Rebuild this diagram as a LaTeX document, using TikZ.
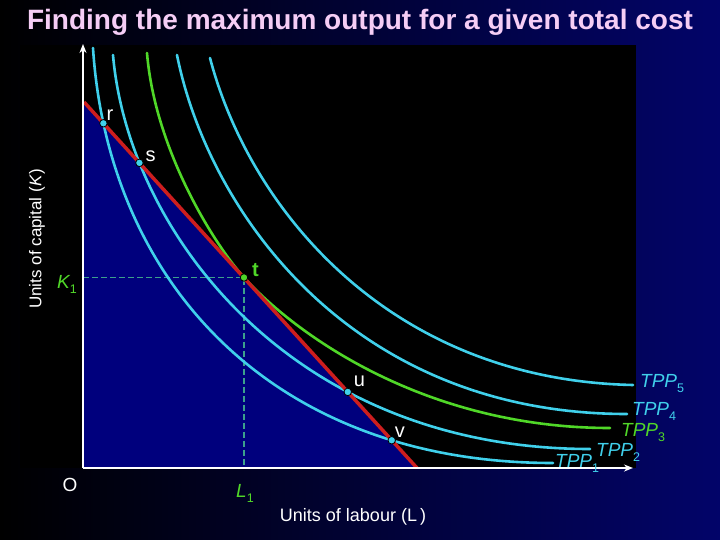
\documentclass[tikz,border=0pt]{standalone}
\usepackage{fontspec}
\setmainfont{Liberation Sans}
\usetikzlibrary{arrows.meta,intersections}

\definecolor{bgnavy}{RGB}{2,4,105}
\definecolor{tppcyan}{RGB}{64,208,235}
\definecolor{tppgreen}{RGB}{80,215,40}
\definecolor{isored}{RGB}{205,30,30}
\definecolor{fillnavy}{RGB}{0,0,125}
\definecolor{titlepink}{RGB}{245,205,245}
\definecolor{guideteal}{RGB}{60,160,140}
\newcommand{\lowsub}[1]{\raisebox{-0.55ex}{\fontsize{12.5}{12.5}\selectfont\upshape #1}}

\begin{document}
\begin{tikzpicture}[x=1pt,y=-1pt,
    curve/.style={line width=2.6pt,tppcyan,line cap=round},
    dot/.style={circle,fill=tppcyan,draw=black,line width=0.8pt,inner sep=0pt,minimum size=7.5pt},
    ptlabel/.style={white,font=\fontsize{20}{20}\selectfont,anchor=base west,inner sep=0pt},
    tpplabel/.style={tppcyan,font=\fontsize{19}{19}\selectfont\itshape,anchor=base west,inner sep=0pt},
    axislabel/.style={white,font=\fontsize{18}{18}\selectfont,inner sep=0pt}]
            \useasboundingbox (0,0) rectangle (720,540);
            \shade[left color=black,right color=bgnavy] (0,0) rectangle (720,540);
            \fill[black] (20,45) rectangle (636,468);
            % key points of the budget line
            \coordinate (origin) at (83,468);
            \coordinate (kmax) at (84,102);
            \coordinate (lmax) at (417,468);
            \coordinate (tpt) at (244,277.5);
            \coordinate (k1) at (83,277.5);
            \coordinate (l1) at (244,468);
            \coordinate (kend) at (83,44);
            \coordinate (lend) at (633,468);
            \fill[fillnavy] (kmax) -- (origin) -- (lmax) -- cycle;
            \draw[guideteal,dash pattern=on 6pt off 3pt,line width=1.2pt] (k1) -- (tpt) -- (l1);
            % isoquants
            \draw[curve,name path=tppone] (93,48) .. controls (108,280) and (270,463) .. (553,463);
            \draw[curve,name path=tpptwo] (113,55) .. controls (128,230) and (290,449) .. (590,449);
            \draw[curve,tppgreen] (147,53) .. controls (155,150) and (214,244) .. (tpt)
                .. controls (300,339) and (430,428) .. (610,428);
            \draw[curve] (177,55) .. controls (208,210) and (350,414) .. (627,414);
            \draw[curve] (210,58) .. controls (250,210) and (390,380) .. (633,385);
            \draw[isored,line width=3.5pt,name path=budget] (kmax) -- (lmax);
            % axes
            \draw[white,line width=2.5pt,-{Stealth[length=9pt,width=7pt]}] (origin) -- (kend);
            \draw[white,line width=2.5pt,-{Stealth[length=9pt,width=7pt]}] (origin) -- (lend);
            % points where the budget line meets the curves
            \path[name intersections={of=budget and tppone,sort by=budget,by={rpt,vpt}}];
            \path[name intersections={of=budget and tpptwo,sort by=budget,by={spt,upt}}];
            \foreach \name in {r,s,u,v}
                \node[dot] (\name) at (\name pt) {};
            \node[dot,fill=tppgreen] (t) at (tpt) {};
            \node[ptlabel,xshift=3pt,yshift=3pt] (rlab) at (r) {r};
            \node[ptlabel,xshift=6pt,yshift=1pt] (slab) at (s) {s};
            \node[ptlabel,tppgreen,font=\fontsize{20}{20}\selectfont\bfseries,xshift=8pt,yshift=1pt] (tlab) at (t) {t};
            \node[ptlabel,xshift=6pt,yshift=5pt] (ulab) at (u) {u};
            \node[ptlabel,xshift=3pt,yshift=3pt] (vlab) at (v) {v};
            % curve names
            \node[tpplabel] (tpp5) at (640,387) {TPP\lowsub{5}};
            \node[tpplabel] (tpp4) at (632,415) {TPP\lowsub{4}};
            \node[tpplabel,tppgreen] (tpp3) at (621,436) {TPP\lowsub{3}};
            \node[tpplabel] (tpp2) at (596,456) {TPP\lowsub{2}};
            \node[tpplabel] (tpp1) at (555,467) {TPP\lowsub{1}};
            % axis texts
            \node[axislabel,tppgreen,anchor=base west,font=\fontsize{19}{19}\selectfont] (k1lab) at (57,288) {\itshape K\lowsub{1}};
            \node[axislabel,tppgreen,anchor=base west,font=\fontsize{19}{19}\selectfont] (l1lab) at (236,497) {\itshape L\lowsub{1}};
            \node[axislabel,font=\fontsize{19}{19}\selectfont] (olab) at (70,485) {O};
            \node[axislabel] (xlab) at (353,517) {Units of labour (L\,)};
            \node[axislabel,rotate=90,font=\fontsize{17}{17}\selectfont] (ylab) at (37,239) {Units of capital (\textit{K})};
            \node[titlepink,font=\fontsize{28}{28}\selectfont\bfseries] (title) at (360,22) {Finding the maximum output for a given total cost};
\end{tikzpicture}
\end{document}
